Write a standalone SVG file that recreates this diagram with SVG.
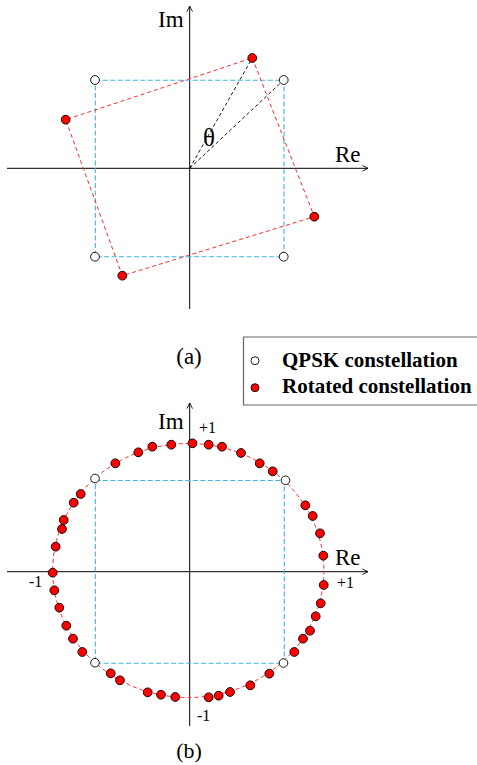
<svg xmlns="http://www.w3.org/2000/svg" width="477" height="765" viewBox="0 0 477 765">
<defs>
<style>
.ax{stroke:#000;stroke-width:1;fill:none}
.blue{stroke:#3bb6e8;stroke-width:1.1;fill:none;stroke-dasharray:5 2.5}
.red{stroke:#ff2a2a;stroke-width:1;fill:none;stroke-dasharray:4 3}
.blk{stroke:#000;stroke-width:0.9;fill:none;stroke-dasharray:3.5 2.5}
.q{fill:#fff;stroke:#000;stroke-width:0.9}
.r{fill:#f00;stroke:#000;stroke-width:0.9}
.t{font-family:"Liberation Serif","Times New Roman",serif;fill:#000}
.lg{font-family:"Liberation Serif","Times New Roman",serif;font-weight:bold;font-size:21px;fill:#000}
</style>
<marker id="arr" viewBox="0 0 10 10" refX="9" refY="5" markerWidth="7" markerHeight="7" orient="auto" markerUnits="userSpaceOnUse">
<path d="M1,1 L9,5 L1,9" fill="none" stroke="#000" stroke-width="1.2"/>
</marker>
</defs>
<rect width="477" height="765" fill="#fff"/>

<!-- Diagram (a) -->
<g id="axes-a">
<line class="ax" x1="189.7" y1="309" x2="189.7" y2="6" marker-end="url(#arr)"/>
<line class="ax" x1="7" y1="168.3" x2="368" y2="168.3" marker-end="url(#arr)"/>
<text class="t" x="158" y="27" font-size="23">Im</text>
<text class="t" x="335" y="162" font-size="23">Re</text>
</g>
<g id="connectors-a">
<rect class="blue" x="95.3" y="80.3" width="188.7" height="176.4"/>
<polygon class="red" points="252.3,58 314.3,216.7 122.3,275.7 65.7,119.7"/>
<line class="blk" x1="189.7" y1="168.3" x2="252.3" y2="58"/>
<line class="blk" x1="189.7" y1="168.3" x2="283.7" y2="80"/>
</g>
<g id="theta">
<text class="t" x="209" y="146" font-size="25" text-anchor="middle">θ</text>
</g>
<g id="qpsk-a">
<circle class="q" cx="95" cy="80" r="4.4"/>
<circle class="q" cx="283.7" cy="80" r="4.4"/>
<circle class="q" cx="95" cy="256.7" r="4.4"/>
<circle class="q" cx="283.7" cy="256.7" r="4.4"/>
</g>
<g id="rot-a">
<circle class="r" cx="252.3" cy="58" r="4.4"/>
<circle class="r" cx="314.3" cy="216.7" r="4.4"/>
<circle class="r" cx="122.3" cy="275.7" r="4.4"/>
<circle class="r" cx="65.7" cy="119.7" r="4.4"/>
</g>
<g id="label-a">
<text class="t" x="189" y="364" font-size="23" text-anchor="middle">(a)</text>
</g>

<!-- Legend -->
<g id="legend">
<path d="M477,337 H243.5 V405 H477" fill="none" stroke="#666" stroke-width="1.2"/>
<circle class="q" cx="255" cy="360.7" r="4"/>
<text class="lg" x="282" y="367">QPSK constellation</text>
<circle class="r" cx="255" cy="387.7" r="4"/>
<text class="lg" x="282" y="393">Rotated constellation</text>
</g>

<!-- Diagram (b) -->
<g id="axes-b">
<line class="ax" x1="189.7" y1="726" x2="189.7" y2="403" marker-end="url(#arr)"/>
<line class="ax" x1="7" y1="571.7" x2="368" y2="571.7" marker-end="url(#arr)"/>
<text class="t" x="158" y="429" font-size="23">Im</text>
<text class="t" x="335" y="565" font-size="23">Re</text>
<text class="t" x="199" y="433" font-size="16">+1</text>
<text class="t" x="337" y="588" font-size="16">+1</text>
<text class="t" x="29" y="587" font-size="16">-1</text>
<text class="t" x="197" y="721" font-size="16">-1</text>
</g>
<g id="connectors-b">
<rect class="blue" x="95.3" y="480.5" width="189" height="182.8"/>
<ellipse class="red" cx="188.3" cy="570.5" rx="135.6" ry="127" stroke-dasharray="6 4"/>
</g>
<g id="qpsk-b">
<circle class="q" cx="95" cy="478.5" r="4.3"/>
<circle class="q" cx="285.5" cy="480.3" r="4.3"/>
<circle class="q" cx="95" cy="662.7" r="4.3"/>
<circle class="q" cx="283.5" cy="663" r="4.3"/>
</g>
<g id="rot-b">
<circle class="r" cx="52.7" cy="572.7" r="4.4"/>
<circle class="r" cx="55.7" cy="546.7" r="4.4"/>
<circle class="r" cx="62" cy="529" r="4.4"/>
<circle class="r" cx="63.7" cy="520" r="4.4"/>
<circle class="r" cx="73.7" cy="502.7" r="4.4"/>
<circle class="r" cx="80.7" cy="494" r="4.4"/>
<circle class="r" cx="115.3" cy="463.3" r="4.4"/>
<circle class="r" cx="138.3" cy="452.3" r="4.4"/>
<circle class="r" cx="152.3" cy="446.7" r="4.4"/>
<circle class="r" cx="171.3" cy="444.7" r="4.4"/>
<circle class="r" cx="192.5" cy="443.3" r="4.4"/>
<circle class="r" cx="208.7" cy="444.7" r="4.4"/>
<circle class="r" cx="222" cy="446.7" r="4.4"/>
<circle class="r" cx="241" cy="453" r="4.4"/>
<circle class="r" cx="259.7" cy="463.3" r="4.4"/>
<circle class="r" cx="272.7" cy="471.3" r="4.4"/>
<circle class="r" cx="305.3" cy="505.3" r="4.4"/>
<circle class="r" cx="312.7" cy="516" r="4.4"/>
<circle class="r" cx="320" cy="533.3" r="4.4"/>
<circle class="r" cx="323.3" cy="555.7" r="4.4"/>
<circle class="r" cx="54.3" cy="590.3" r="4.4"/>
<circle class="r" cx="59.3" cy="607.7" r="4.4"/>
<circle class="r" cx="66.3" cy="625.7" r="4.4"/>
<circle class="r" cx="73" cy="638.7" r="4.4"/>
<circle class="r" cx="82.3" cy="652" r="4.4"/>
<circle class="r" cx="110.7" cy="673.3" r="4.4"/>
<circle class="r" cx="120" cy="680.3" r="4.4"/>
<circle class="r" cx="147.7" cy="692.3" r="4.4"/>
<circle class="r" cx="161" cy="694.7" r="4.4"/>
<circle class="r" cx="175.3" cy="697" r="4.4"/>
<circle class="r" cx="208.7" cy="697.3" r="4.4"/>
<circle class="r" cx="218.7" cy="695.7" r="4.4"/>
<circle class="r" cx="230" cy="692" r="4.4"/>
<circle class="r" cx="250.3" cy="685.3" r="4.4"/>
<circle class="r" cx="269.3" cy="673.7" r="4.4"/>
<circle class="r" cx="294.3" cy="652" r="4.4"/>
<circle class="r" cx="303" cy="638.7" r="4.4"/>
<circle class="r" cx="310" cy="630.7" r="4.4"/>
<circle class="r" cx="315.7" cy="616.3" r="4.4"/>
<circle class="r" cx="320.7" cy="603.3" r="4.4"/>
<circle class="r" cx="323.7" cy="585" r="4.4"/>
</g>
<g id="label-b">
<text class="t" x="189" y="758" font-size="22" text-anchor="middle">(b)</text>
</g>
</svg>
